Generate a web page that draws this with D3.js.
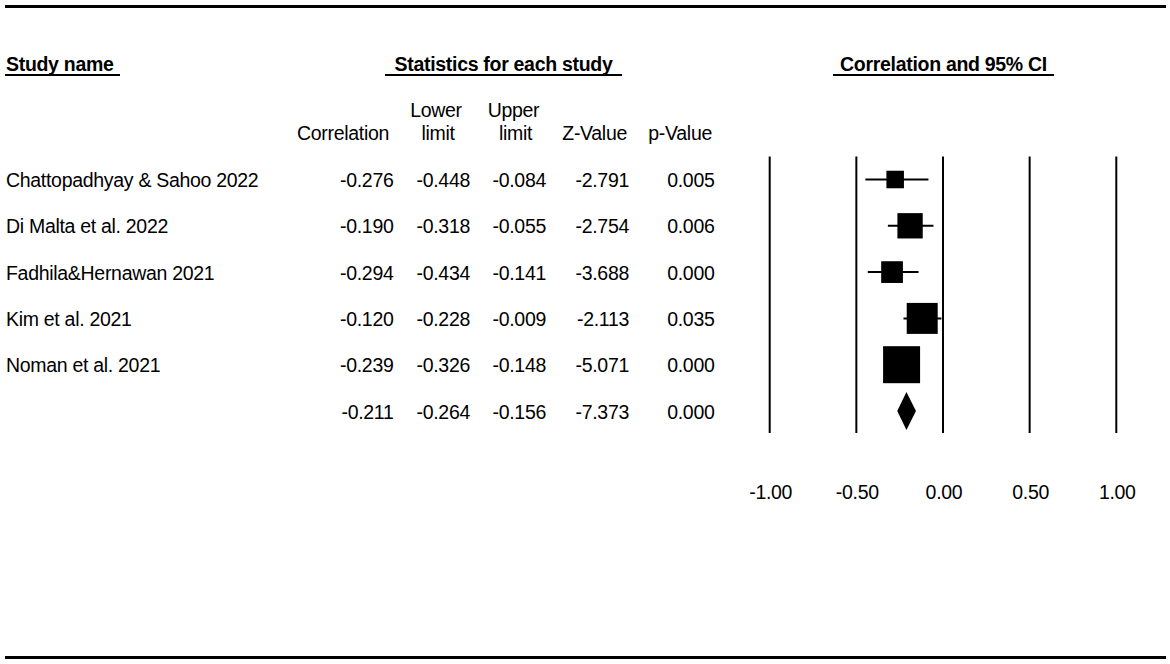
<!DOCTYPE html>
<html>
<head>
<meta charset="utf-8">
<script src="https://cdn.jsdelivr.net/npm/d3@7"></script>
<style>
  body { margin: 0; background: #fff; }
  text { font-family: "Liberation Sans", Arial, sans-serif; fill: #000; letter-spacing: -0.3px; }
</style>
</head>
<body>
<script>
// Study rows, last entry is the pooled estimate
const studies = ["Chattopadhyay & Sahoo 2022", "Di Malta et al. 2022", "Fadhila&Hernawan 2021",
  "Kim et al. 2021", "Noman et al. 2021", ""];
const correlation = [-0.276, -0.190, -0.294, -0.120, -0.239, -0.211];
const lowerLimit = [-0.448, -0.318, -0.434, -0.228, -0.326, -0.264];
const upperLimit = [-0.084, -0.055, -0.141, -0.009, -0.148, -0.156];
const zValue = [-2.791, -2.754, -3.688, -2.113, -5.071, -7.373];
const pValue = [0.005, 0.006, 0.000, 0.035, 0.000, 0.000];
// relative weights (%) for the box sizes
const weights = [8.2, 17.1, 12.6, 25.6, 36.5];
const ticks = [-1, -0.5, 0, 0.5, 1];

const width = 1170, height = 664;

const svg = d3.select("body").append("svg")
  .attr("width", width)
  .attr("height", height);

const fmt = d3.formatLocale({ decimal: ".", thousands: ",", grouping: [3], currency: ["", ""], minus: "-" });
const f3 = fmt.format(".3f");
const f2 = fmt.format(".2f");

const x = d3.scaleLinear().domain([-1, 1]).range([769.7, 1116.3]);
const y = d3.scaleLinear().domain([0, 5]).range([179.5, 411]);
const size = d3.scaleSqrt().domain([0, d3.max(weights)]).range([0, 37]);

const fs = 19.5;

// frame rules
svg.append("line").attr("x1", 5).attr("x2", 1166).attr("y1", 6.5).attr("y2", 6.5)
  .attr("stroke", "#000").attr("stroke-width", 3);
svg.append("line").attr("x1", 5).attr("x2", 1166).attr("y1", 657.5).attr("y2", 657.5)
  .attr("stroke", "#000").attr("stroke-width", 3);

// bold section titles with underline
const titles = [
  { t: "Study name", x: 6, anchor: "start", u0: 5, u1: 120 },
  { t: "Statistics for each study", x: 503.5, anchor: "middle", u0: 385, u1: 622 },
  { t: "Correlation and 95% CI", x: 943.5, anchor: "middle", u0: 833, u1: 1054 }
];
svg.append("g").selectAll("text").data(titles).join("text")
  .attr("x", d => d.x).attr("y", 71)
  .attr("text-anchor", d => d.anchor)
  .style("font-size", fs + "px").style("font-weight", "bold")
  .text(d => d.t);
svg.append("g").selectAll("line").data(titles).join("line")
  .attr("x1", d => d.u0).attr("x2", d => d.u1)
  .attr("y1", 75).attr("y2", 75)
  .attr("stroke", "#000").attr("stroke-width", 2);

// column headers
const headers = [
  { t: "Correlation", x: 389, y: 140, anchor: "end" },
  { t: "Lower", x: 436, y: 117, anchor: "middle" },
  { t: "limit", x: 438, y: 140, anchor: "middle" },
  { t: "Upper", x: 513.5, y: 117, anchor: "middle" },
  { t: "limit", x: 515.5, y: 140, anchor: "middle" },
  { t: "Z-Value", x: 627, y: 140, anchor: "end" },
  { t: "p-Value", x: 712, y: 140, anchor: "end" }
];
svg.append("g").selectAll("text").data(headers).join("text")
  .attr("x", d => d.x).attr("y", d => d.y)
  .attr("text-anchor", d => d.anchor)
  .style("font-size", fs + "px")
  .text(d => d.t);

// table body
const cols = [
  { vals: correlation, right: 393.5 },
  { vals: lowerLimit, right: 470 },
  { vals: upperLimit, right: 546 },
  { vals: zValue, right: 629 },
  { vals: pValue, right: 714.5 }
];
svg.append("g").selectAll("text").data(studies).join("text")
  .attr("x", 6).attr("y", (d, i) => y(i) + 7.5)
  .style("font-size", fs + "px")
  .text(d => d);
cols.forEach(c => {
  svg.append("g").selectAll("text").data(c.vals).join("text")
    .attr("x", c.right).attr("y", (d, i) => y(i) + 7.5)
    .attr("text-anchor", "end")
    .style("font-size", fs + "px")
    .text(d => f3(d));
});

// reference lines
svg.append("g").selectAll("line").data(ticks).join("line")
  .attr("x1", d => x(d)).attr("x2", d => x(d))
  .attr("y1", y(0) - 23).attr("y2", y(5) + 22)
  .attr("stroke", "#000").attr("stroke-width", 2);

// tick labels
svg.append("g").selectAll("text").data(ticks).join("text")
  .attr("x", d => x(d) + 1).attr("y", 498.5)
  .attr("text-anchor", "middle")
  .style("font-size", fs + "px")
  .text(d => f2(d));

// study boxes and whiskers
const idx = d3.range(weights.length);
svg.append("g").selectAll("line").data(idx).join("line")
  .attr("x1", i => x(lowerLimit[i])).attr("x2", i => x(upperLimit[i]))
  .attr("y1", i => y(i)).attr("y2", i => y(i))
  .attr("stroke", "#000").attr("stroke-width", 2);
svg.append("g").selectAll("rect").data(idx).join("rect")
  .attr("x", i => x(correlation[i]) - size(weights[i]) / 2)
  .attr("y", i => y(i) - size(weights[i]) / 2)
  .attr("width", i => size(weights[i]))
  .attr("height", i => size(weights[i]))
  .attr("fill", "#000");

// pooled diamond
const p = 5;
svg.append("path")
  .attr("d", `M${x(lowerLimit[p])},${y(p)} L${x(correlation[p])},${y(p) - 19} L${x(upperLimit[p])},${y(p)} L${x(correlation[p])},${y(p) + 19} Z`)
  .attr("fill", "#000");
</script>
</body>
</html>
